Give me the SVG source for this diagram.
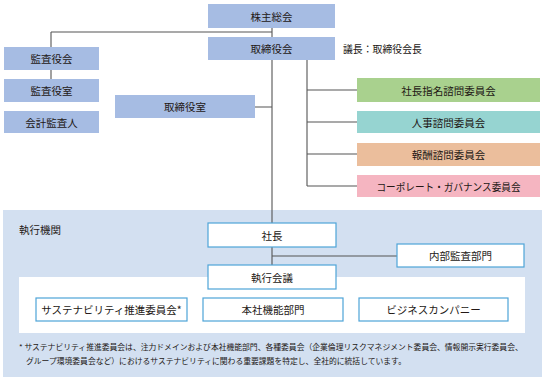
<svg xmlns="http://www.w3.org/2000/svg" width="545" height="381" viewBox="0 0 545 381">
<style>
text{font-family:"Noto Sans CJK JP","Noto Sans",sans-serif;fill:#231815;text-anchor:middle;dominant-baseline:central}
.t{font-size:10.5px}
.fn{font-size:7.8px;text-anchor:start}
.gov{fill:#a6bce3}
.ex{fill:#fff;stroke:#4ea4d8;stroke-width:1.2}
.ln{stroke:#555;stroke-width:1.1;fill:none}
</style>
<rect x="3" y="210" width="539" height="167" fill="#d3e0f1"/>
<rect x="19" y="277" width="506" height="56" fill="#fff"/>
<g id="connectors" class="ln">
<path d="M272 28V223M51 32H272M51 32V47M51 70V79M255 107H272"/>
<path d="M307 60V186M307 90H357M307 122H357M307 154H357M307 186H357"/>
<path d="M272 247V265M272 256H397"/>
</g>
<g id="kabunushi"><rect class="gov" x="208" y="4" width="127" height="24"/><text class="t" x="271.5" y="16">株主総会</text></g>
<g id="torishimariyakukai"><rect class="gov" x="208" y="37" width="127" height="23"/><text class="t" x="271.5" y="48.5">取締役会</text></g>
<text class="t" x="343" y="48.5" style="text-anchor:start" textLength="79" lengthAdjust="spacingAndGlyphs">議長：取締役会長</text>
<g id="kansayakukai"><rect class="gov" x="4" y="47" width="95" height="23"/><text class="t" x="51.5" y="58.5">監査役会</text></g>
<g id="kansayakushitsu"><rect class="gov" x="4" y="79" width="95" height="23"/><text class="t" x="51.5" y="90.5">監査役室</text></g>
<g id="kaikeikansanin"><rect class="gov" x="4" y="111" width="95" height="22"/><text class="t" x="51.5" y="122">会計監査人</text></g>
<g id="torishimariyakushitsu"><rect class="gov" x="115" y="95" width="140" height="23"/><text class="t" x="185" y="106.5">取締役室</text></g>
<g id="shimei"><rect fill="#a9d18e" x="357" y="78" width="183" height="24"/><text class="t" x="448.5" y="90">社長指名諮問委員会</text></g>
<g id="jinji"><rect fill="#96d4d1" x="357" y="111" width="183" height="22"/><text class="t" x="448.5" y="122">人事諮問委員会</text></g>
<g id="hoshu"><rect fill="#ebbe9c" x="357" y="143" width="183" height="23"/><text class="t" x="448.5" y="154.5">報酬諮問委員会</text></g>
<g id="cg"><rect fill="#f5b5c1" x="357" y="175" width="183" height="22"/><text class="t" x="448.5" y="186" textLength="144" lengthAdjust="spacingAndGlyphs">コーポレート・ガバナンス委員会</text></g>
<text class="t" x="19" y="229" style="text-anchor:start">執行機関</text>
<g id="shacho"><rect class="ex" x="208" y="223" width="128" height="24"/><text class="t" x="272" y="235">社長</text></g>
<g id="naibukansa"><rect class="ex" x="397" y="244" width="127" height="23"/><text class="t" x="460.5" y="255.5">内部監査部門</text></g>
<g id="shikkokaigi"><rect class="ex" x="208" y="265" width="128" height="24"/><text class="t" x="272" y="277">執行会議</text></g>
<g id="sustainability"><rect class="ex" x="36" y="298" width="151" height="23"/><text class="t" x="111.5" y="309.5">サステナビリティ推進委員会*</text></g>
<g id="honsha"><rect class="ex" x="203" y="298" width="140" height="23"/><text class="t" x="273" y="309.5">本社機能部門</text></g>
<g id="business"><rect class="ex" x="359" y="298" width="149" height="23"/><text class="t" x="433.5" y="309.5">ビジネスカンパニー</text></g>
<text class="fn" x="19" y="346">* サステナビリティ推進委員会は、注力ドメインおよび本社機能部門、各種委員会（企業倫理リスクマネジメント委員会、情報開示実行委員会、</text>
<text class="fn" x="26" y="360">グループ環境委員会など）におけるサステナビリティに関わる重要課題を特定し、全社的に統括しています。</text>
</svg>
